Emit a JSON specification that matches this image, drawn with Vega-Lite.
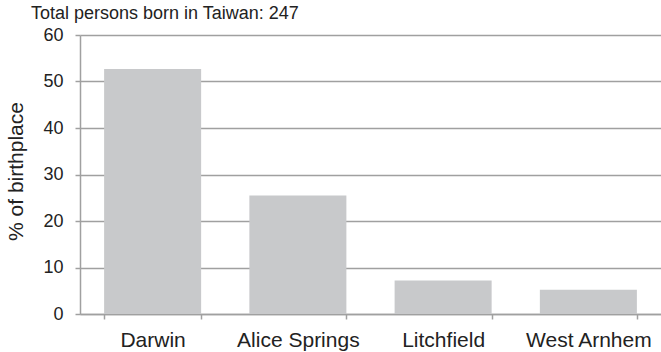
{
  "$schema": "https://vega.github.io/schema/vega-lite/v6.json",
  "width": 581,
  "height": 279,
  "autosize": "none",
  "padding": {"left": 80, "top": 35, "right": 0, "bottom": 38},
  "background": "white",
  "title": {
    "text": "Total persons born in Taiwan: 247",
    "anchor": "start",
    "frame": "group",
    "dx": -49,
    "offset": 3,
    "font": "Liberation Sans",
    "fontSize": 18,
    "fontWeight": "normal",
    "color": "#222222"
  },
  "data": {
    "values": [
      {"region": "Darwin", "pct": 52.7},
      {"region": "Alice Springs", "pct": 25.5},
      {"region": "Litchfield", "pct": 7.2},
      {"region": "West Arnhem", "pct": 5.2}
    ]
  },
  "mark": {"type": "bar", "color": "#c8c9cb"},
  "encoding": {
    "x": {
      "field": "region",
      "type": "nominal",
      "sort": null,
      "scale": {"paddingInner": 0.332, "paddingOuter": 0.166},
      "axis": {
        "title": null,
        "labelAngle": 0,
        "labelFont": "Liberation Sans",
        "labelFontSize": 21,
        "labelColor": "#222222",
        "labelPadding": 10,
        "tickBand": "extent",
        "tickSize": 5,
        "tickColor": "#a0a0a0",
        "tickWidth": 1.5,
        "domainColor": "#a0a0a0",
        "domainWidth": 1.5,
        "grid": false
      }
    },
    "y": {
      "field": "pct",
      "type": "quantitative",
      "scale": {"domain": [0, 60], "nice": false},
      "axis": {
        "title": "% of birthplace",
        "titleFont": "Liberation Sans",
        "titleFontSize": 21,
        "titleFontWeight": "normal",
        "titleColor": "#222222",
        "titleAngle": 270,
        "titleAlign": "center",
        "titleBaseline": "middle",
        "titleX": -64,
        "titleY": 136,
        "values": [0, 10, 20, 30, 40, 50, 60],
        "labelFont": "Liberation Sans",
        "labelFontSize": 18,
        "labelColor": "#222222",
        "labelPadding": 12,
        "tickSize": 5,
        "tickColor": "#a0a0a0",
        "tickWidth": 1.5,
        "domainColor": "#a0a0a0",
        "domainWidth": 1.5,
        "grid": true,
        "gridColor": "#a0a0a0",
        "gridWidth": 1.5
      }
    }
  },
  "config": {"view": {"stroke": null}}
}
